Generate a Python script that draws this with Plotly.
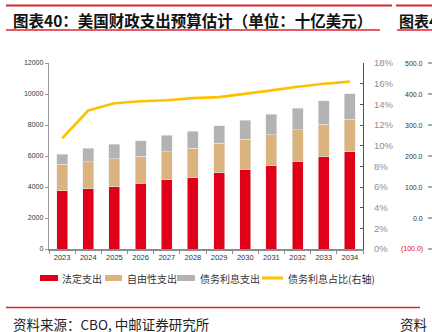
import plotly.graph_objects as go

# CBO outlay projections, billions of US dollars
years = ["2023", "2024", "2025", "2026", "2027", "2028", "2029", "2030", "2031", "2032", "2033", "2034"]
mandatory = [3750, 3880, 4030, 4240, 4460, 4600, 4930, 5140, 5380, 5660, 5960, 6280]
discretionary = [1710, 1750, 1780, 1740, 1820, 1900, 1890, 1930, 1990, 2030, 2100, 2080]
net_interest = [660, 870, 940, 1000, 1050, 1110, 1130, 1240, 1310, 1400, 1500, 1670]
interest_share = [10.7, 13.4, 14.1, 14.3, 14.4, 14.6, 14.7, 15.0, 15.35, 15.7, 16.0, 16.2]

left_ticks = [0, 2000, 4000, 6000, 8000, 10000, 12000]
right_ticks = [0, 2, 4, 6, 8, 10, 12, 14, 16, 18]
side_ticks = ["500.0", "400.0", "300.0", "200.0", "100.0", "0.0", "(100.0)"]

series_names = ["法定支出", "自由性支出", "债务利息支出", "债务利息占比(右轴)"]
RED, TAN, GREY, GOLD = "#E0001A", "#DAB37F", "#B3B3B3", "#FFC000"

W, H = 432, 332
L, R, T, B = 49, 363, 63, 249  # plot area in pixels


def px(x):
    return (x - L) / (R - L)


def py(y):
    return (B - y) / (B - T)


CJK = "Noto Sans CJK SC"
NUM = "Liberation Sans"

fig = go.Figure()
edge = dict(color="rgba(235,235,235,0.9)", width=0.6)
fig.add_trace(go.Bar(x=years, y=mandatory, name=series_names[0], marker=dict(color=RED, line=edge), width=0.42))
fig.add_trace(go.Bar(x=years, y=discretionary, name=series_names[1], marker=dict(color=TAN, line=edge), width=0.42))
fig.add_trace(go.Bar(x=years, y=net_interest, name=series_names[2], marker=dict(color=GREY, line=edge), width=0.42))
fig.add_trace(go.Scatter(x=years, y=interest_share, name=series_names[3], mode="lines",
                         line=dict(color=GOLD, width=2.6), yaxis="y2"))

fig.update_layout(
    width=W, height=H,
    margin=dict(l=L, r=W - R, t=T, b=H - B, pad=0),
    barmode="stack",
    showlegend=False,
    plot_bgcolor="white", paper_bgcolor="white",
    xaxis=dict(type="category", showgrid=False, showline=True, linecolor="#8c8c8c", linewidth=1.6,
               ticks="outside", ticklen=3, tickcolor="#8c8c8c", tickson="boundaries",
               tickfont=dict(family=NUM, size=7.5, color="#333"), fixedrange=True),
    yaxis=dict(range=[0, 12000], tickvals=left_ticks, ticktext=[str(v) for v in left_ticks],
               showgrid=False, zeroline=False,
               showline=True, linecolor="#9a9a9a", linewidth=1.4, ticks="outside", ticklen=3,
               tickcolor="#9a9a9a", tickfont=dict(family=NUM, size=7, color="#333")),
    yaxis2=dict(range=[0, 18], tickvals=right_ticks, ticktext=[f"{v}%" for v in right_ticks],
                overlaying="y", side="right", showgrid=False, zeroline=False, showline=True,
                linecolor="#555", linewidth=1.2, ticks="inside", ticklen=3, tickcolor="#555",
                ticklabelstandoff=8, color="#8f8f8f",
                tickfont=dict(family=NUM, size=9.5, color="#8f8f8f")),
)

shapes = []
annotations = []

# header and footer rules
for x0, x1, y, w in [(6, 392, 5.5, 2.2), (396, 432, 5.5, 2.2), (6, 380, 30, 1.4), (397, 432, 30, 1.4),
                     (6, 420, 307.5, 1.4)]:
    shapes.append(dict(type="line", xref="paper", yref="paper", x0=px(x0), x1=px(x1), y0=py(y), y1=py(y),
                       line=dict(color="#D9262E", width=w)))

annotations.append(dict(text="<b>图表40：美国财政支出预算估计（单位：十亿美元）</b>", x=px(11), y=py(20),
                        xref="paper", yref="paper", xanchor="left", yanchor="middle", showarrow=False,
                        font=dict(family=CJK, size=15.5, color="#111")))
annotations.append(dict(text="<b>图表4</b>", x=px(397), y=py(20), xref="paper", yref="paper",
                        xanchor="left", yanchor="middle", showarrow=False,
                        font=dict(family=CJK, size=15, color="#111")))
annotations.append(dict(text="资料来源：CBO, 中邮证券研究所", x=px(11), y=py(324), xref="paper", yref="paper",
                        xanchor="left", yanchor="middle", showarrow=False,
                        font=dict(family=CJK, size=13.5, color="#222")))
annotations.append(dict(text="资料", x=px(398), y=py(324), xref="paper", yref="paper",
                        xanchor="left", yanchor="middle", showarrow=False,
                        font=dict(family=CJK, size=13.5, color="#222")))

# neighbouring axis on the right edge
for i, lab in enumerate(side_ticks):
    y = T + i * (B - T) / (len(side_ticks) - 1)
    annotations.append(dict(text=lab, x=px(425), y=py(y), xref="paper", yref="paper", xanchor="right",
                            yanchor="middle", showarrow=False,
                            font=dict(family=NUM, size=7, color="#E0001A" if lab.startswith("(") else "#333")))
    shapes.append(dict(type="line", xref="paper", yref="paper", x0=px(428), x1=px(432), y0=py(y), y1=py(y),
                       line=dict(color="#555", width=1)))

# legend
ly = 278
legend_items = [(40, 58, RED, 6, series_names[0], 60),
                (105, 122, TAN, 6, series_names[1], 125),
                (177, 195, GREY, 6, series_names[2], 198),
                (262, 283, GOLD, 3, series_names[3], 286)]
for x0, x1, col, thick, name, tx in legend_items:
    shapes.append(dict(type="line", xref="paper", yref="paper", x0=px(x0), x1=px(x1), y0=py(ly), y1=py(ly),
                       line=dict(color=col, width=thick)))
    annotations.append(dict(text=name, x=px(tx), y=py(ly), xref="paper", yref="paper", xanchor="left",
                            yanchor="middle", showarrow=False, font=dict(family=CJK, size=10, color="#333")))

fig.update_layout(shapes=shapes, annotations=annotations)
fig.write_html("out.html")
